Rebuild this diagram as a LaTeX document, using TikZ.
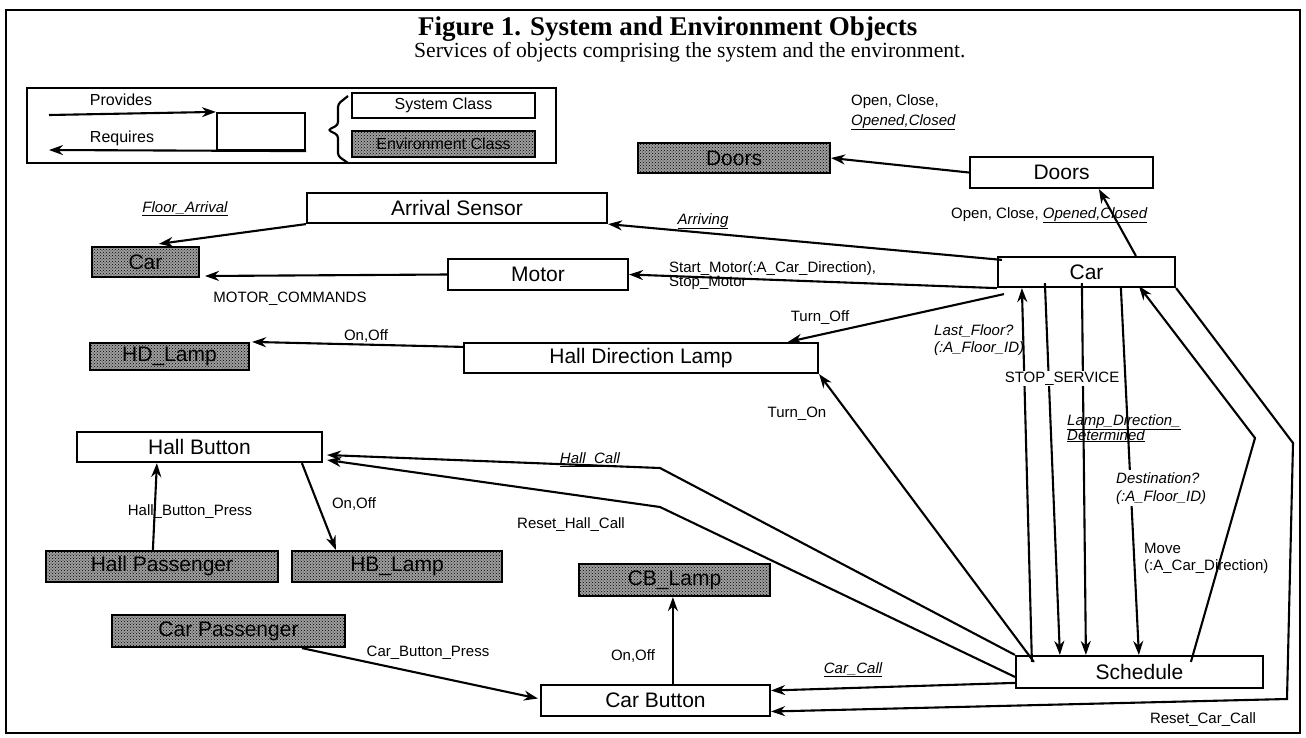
\documentclass[tikz,border=0pt]{standalone}
\usepackage{fontspec}
\setmainfont{Liberation Serif}
\setsansfont{Liberation Sans}
\usetikzlibrary{arrows.meta,calc,patterns}

\newcommand{\boxfont}{\sffamily\fontsize{21}{23}\selectfont}
\newcommand{\lblfont}{\sffamily\fontsize{15}{17}\selectfont}
\newcommand{\lgdfont}{\sffamily\fontsize{16}{18}\selectfont}
\newcommand{\uln}[1]{\underline{#1}}

\tikzset{
  sysbox/.style={draw, line width=2.2pt, fill=white, font=\boxfont, inner sep=0pt},
  envbox/.style={draw, line width=2.2pt, fill=black!38, font=\boxfont, inner sep=0pt,
    postaction={pattern=crosshatch dots, pattern color=black}},
  conn/.style={line width=2.1pt, -{Stealth[length=14pt,width=10pt]}},
  lbl/.style={font=\lblfont, inner sep=1pt},
  lgd/.style={font=\lgdfont, inner sep=1pt},
}

\begin{document}
\begin{tikzpicture}[x=1pt,y=-1pt]
\useasboundingbox (0,0) rectangle (1306,737);

% outer frame
\draw[line width=2.2pt] (6,10) rectangle (1300,733);

% heading
\node[anchor=base west, font=\bfseries\fontsize{27}{30}\selectfont, inner sep=0pt] (title) at (418,35)
  {Figure 1. System and Environment Objects};
\node[anchor=base west, font=\fontsize{21.6}{24}\selectfont, inner sep=0pt] (subtitle) at (414,57)
  {Services of objects comprising the system and the environment.};

% legend
\draw[line width=2.2pt] (27,88) rectangle (556,163);
\node[draw, line width=2.2pt, minimum width=88pt, minimum height=37pt, inner sep=0pt] (lbox) at (261,131.5) {};
\node[lgd, anchor=base] (prov) at (121,105) {Provides};
\node[lgd, anchor=base] (req) at (122,142) {Requires};
\coordinate (provTail) at (49,115);
\coordinate (reqTip) at (49,150);
\draw[conn] (provTail) -- (lbox.north west);
\draw[conn] (lbox.south east) -- (reqTip);
\draw[line width=2.2pt, rounded corners=3pt]
  (348,96) -- (338,104) -- (338,125) -- (328,130) -- (338,135) -- (338,156) -- (348,163);
\node[sysbox, font=\lgdfont, minimum width=183pt, minimum height=25pt] (sysc) at (443.5,105.5) {System Class};
\node[envbox, font=\lgdfont, minimum width=183pt, minimum height=26pt] (envc) at (443.5,144) {Environment Class};

% objects
\node[sysbox, minimum width=183pt, minimum height=31pt] (doorsS) at (1061.5,172.5) {Doors};
\node[envbox, minimum width=192pt, minimum height=30pt] (doorsE) at (734,158) {Doors};
\node[sysbox, minimum width=300pt, minimum height=30pt] (arr) at (457,208) {Arrival Sensor};
\node[envbox, minimum width=107pt, minimum height=30pt] (carE) at (145.5,262) {Car};
\node[sysbox, minimum width=180pt, minimum height=31pt] (motor) at (538,274.5) {Motor};
\node[sysbox, minimum width=177pt, minimum height=30pt] (carS) at (1086.5,272) {Car};
\node[envbox, minimum width=159pt, minimum height=27pt] (hdE) at (169.5,356.5) {HD\_Lamp};
\node[sysbox, minimum width=354pt, minimum height=30pt] (hdl) at (641,358) {Hall Direction Lamp};
\node[sysbox, minimum width=245pt, minimum height=30pt] (hb) at (199.5,447) {Hall Button};
\node[envbox, minimum width=232pt, minimum height=31pt] (hp) at (162,566.5) {Hall Passenger};
\node[envbox, minimum width=210pt, minimum height=31pt] (hbE) at (397,566.5) {HB\_Lamp};
\node[envbox, minimum width=191pt, minimum height=32pt] (cbE) at (674.5,580) {CB\_Lamp};
\node[envbox, minimum width=233pt, minimum height=32pt] (cp) at (228.5,631) {Car Passenger};
\node[sysbox, minimum width=229pt, minimum height=31pt] (cb) at (655.5,700.5) {Car Button};
\node[sysbox, minimum width=247pt, minimum height=32pt] (sch) at (1139.5,672) {Schedule};

% free ends and bends
\coordinate (mcTip) at (205,276);
\coordinate (hcBend) at (660,468);
\coordinate (rhcBend) at (660,507);
\coordinate (rccBend) at (1293,443);
\coordinate (rccCorner) at (1287,699);
\coordinate (l5Bend) at (1255,438);

% connectors
\draw[conn] (doorsS.west) -- (doorsE.east);
\draw[conn] ($(carS.north west)+(139,0)$) -- ($(doorsS.south west)+(130,0)$);
\draw[conn] ($(carS.north west)+(5,4)$) -- (arr.south east);
\draw[conn] (carS.south west) -- (motor.east);
\draw[conn] (arr.south west) -- ($(carE.north west)+(68,-2)$);
\draw[conn] (motor.west) -- (mcTip);
\draw[conn] ($(carS.south west)+(7,6)$) -- ($(hdl.north west)+(325,0)$);
\draw[conn] ($(hdl.north west)+(0,5)$) -- ($(hdE.north east)+(2,0)$);
\draw[conn] ($(sch.north west)+(19,7)$) -- (hdl.south east);
\draw[conn] (sch.north west) -- (hcBend) -- ($(hb.east)+(4,8)$);
\draw[conn] ($(sch.north west)+(0,22)$) -- (rhcBend) -- ($(hb.east)+(4,13)$);
\draw[conn] ($(hp.north west)+(108,0)$) -- ($(hb.south west)+(81,0)$);
\draw[conn] ($(hb.south west)+(226,0)$) -- ($(hbE.north west)+(45,0)$);
\draw[conn] ($(cp.south west)+(191,0)$) -- ($(cb.west)+(-2,-2)$);
\draw[conn] ($(cb.north west)+(133,0)$) -- ($(cbE.south west)+(95,0)$);
\draw[conn] ($(sch.north west)+(0,28)$) -- ($(cb.east)+(0,-10)$);
\draw[conn] (carS.south east) -- (rccBend) -- (rccCorner) -- ($(cb.east)+(0,11)$);
\draw[conn] ($(sch.north west)+(176,7)$) -- (l5Bend) -- ($(carS.south west)+(142,-2)$);
\draw[conn] ($(sch.north west)+(17,7)$) -- ($(carS.south west)+(25,0)$);
\draw[conn] ($(carS.south west)+(48,-5)$) -- ($(sch.north west)+(45,0)$);
\draw[conn] ($(carS.south west)+(85,-5)$) -- ($(sch.north west)+(71,0)$);
\draw[conn] ($(carS.south west)+(124,0)$) -- ($(sch.north west)+(124,0)$);

% service labels
\node[lbl, anchor=base west] (lDoorsA) at (850,105) {Open, Close,};
\node[lbl, anchor=base west] (lDoorsB) at (850,125) {\itshape\uln{Opened,Closed}};
\node[lbl, anchor=base west] (lDoorsC) at (950,218) {Open, Close, \itshape\uln{Opened,Closed}};
\node[lbl, anchor=base] (lArriving) at (703,224) {\itshape\uln{Arriving}};
\node[lbl, anchor=base] (lFloor) at (185,212) {\itshape\uln{Floor\_Arrival}};
\node[lbl, anchor=base west] (lStartA) at (668,272) {Start\_Motor(:A\_Car\_Direction),};
\node[lbl, anchor=base west] (lStartB) at (668,286) {Stop\_Motor};
\node[lbl, anchor=base] (lMotorCmd) at (290,302) {MOTOR\_COMMANDS};
\node[lbl, anchor=base] (lHdOnOff) at (366,340) {On,Off};
\node[lbl, anchor=base] (lTurnOff) at (820,321) {Turn\_Off};
\node[lbl, anchor=base west] (lLastA) at (933,335) {\itshape Last\_Floor?};
\node[lbl, anchor=base west] (lLastB) at (933,352) {\itshape(:A\_Floor\_ID)};
\node[lbl, anchor=base, fill=white] (lStop) at (1062,382) {STOP\_SERVICE};
\node[lbl, anchor=base west] (lLampA) at (1066,425) {\itshape\uln{Lamp\_Direction\_}};
\node[lbl, anchor=base west] (lLampB) at (1066,440) {\itshape\uln{Determined}};
\node[lbl, anchor=north west, fill=white, align=left, inner sep=2pt] (lDest) at (1114,470)
  {\itshape Destination?\\[1pt]\itshape(:A\_Floor\_ID)};
\node[lbl, anchor=base west] (lMoveA) at (1143,553) {Move};
\node[lbl, anchor=base west] (lMoveB) at (1143,570) {(:A\_Car\_Direction)};
\node[lbl, anchor=base] (lTurnOn) at (797,417) {Turn\_On};
\node[lbl, anchor=base] (lHallCall) at (590,463) {\itshape\uln{Hall\_Call}};
\node[lbl, anchor=base] (lResetHall) at (571,528) {Reset\_Hall\_Call};
\node[lbl, anchor=base] (lHallPress) at (190,515) {Hall\_Button\_Press};
\node[lbl, anchor=base] (lHbOnOff) at (354,508) {On,Off};
\node[lbl, anchor=base] (lCarPress) at (428,656) {Car\_Button\_Press};
\node[lbl, anchor=base] (lCbOnOff) at (633,660) {On,Off};
\node[lbl, anchor=base] (lCarCall) at (853,673) {\itshape\uln{Car\_Call}};
\node[lbl, anchor=base] (lResetCar) at (1203,723) {Reset\_Car\_Call};

\end{tikzpicture}
\end{document}
